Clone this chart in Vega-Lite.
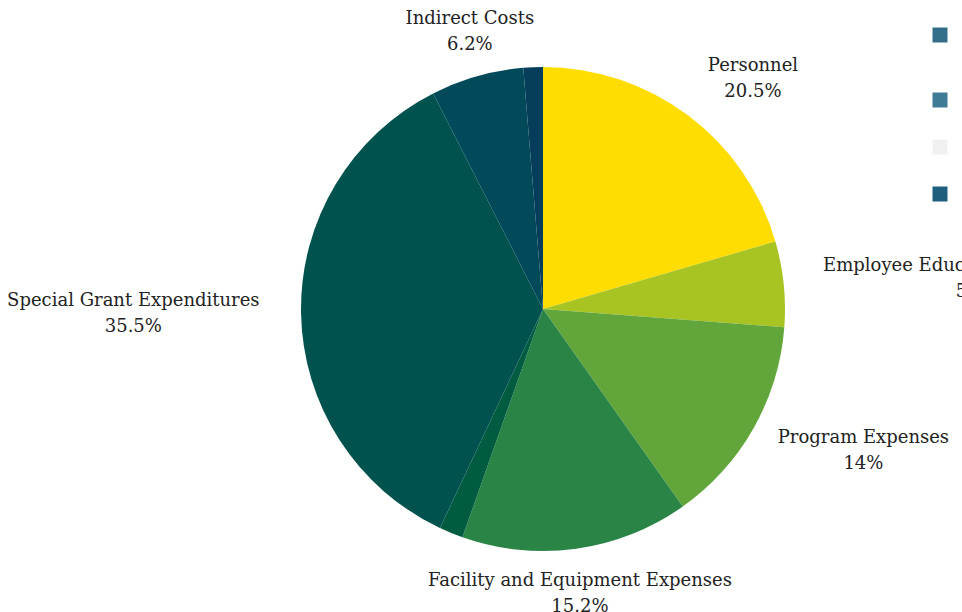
{
  "$schema": "https://vega.github.io/schema/vega-lite/v6.json",
  "autosize": {"type": "none"},
  "padding": {"left": 124, "top": 6, "right": 0, "bottom": 0},
  "width": 838,
  "height": 606,
  "background": "white",
  "config": {"view": {"stroke": null}, "font": "DejaVu Serif"},
  "data": {
    "values": [
      {"order": 1, "name": "Personnel", "value": 20.5},
      {"order": 2, "name": "Employee Education and Training", "value": 5.7},
      {"order": 3, "name": "Program Expenses", "value": 14},
      {"order": 4, "name": "Facility and Equipment Expenses", "value": 15.2},
      {"order": 5, "name": "Travel", "value": 1.6},
      {"order": 6, "name": "Special Grant Expenditures", "value": 35.5},
      {"order": 7, "name": "Indirect Costs", "value": 6.2},
      {"order": 8, "name": "Other", "value": 1.3}
    ]
  },
  "resolve": {"scale": {"color": "independent"}, "legend": {"color": "independent"}},
  "layer": [
    {
      "transform": [
        {"stack": "value", "groupby": [], "sort": [{"field": "order"}], "as": ["v0", "v1"]}
      ],
      "mark": {"type": "arc", "outerRadius": 242, "stroke": null},
      "encoding": {
        "theta": {"field": "v0", "type": "quantitative", "scale": {"domain": [0, 100]}},
        "theta2": {"field": "v1"},
        "color": {
          "field": "name",
          "type": "nominal",
          "legend": null,
          "scale": {
            "domain": ["Personnel", "Employee Education and Training", "Program Expenses", "Facility and Equipment Expenses", "Travel", "Special Grant Expenditures", "Indirect Costs", "Other"],
            "range": ["#FFDD00", "#A8C423", "#62A63B", "#2A8446", "#005C40", "#00524F", "#02495A", "#053D5B"]
          }
        }
      }
    },
    {
      "transform": [
        {"stack": "value", "groupby": [], "sort": [{"field": "order"}], "as": ["v0", "v1"]},
        {"calculate": "(datum.v0 + datum.v1) / 2", "as": "mid"},
        {"filter": "datum.value >= 2"},
        {"calculate": "datum.name + '\\n' + datum.value + '%'", "as": "label"}
      ],
      "mark": {
        "type": "text",
        "radius": 268,
        "fontSize": 18,
        "lineHeight": 26,
        "lineBreak": "\n",
        "align": "center",
        "baseline": "middle",
        "color": "#222222",
        "dx": {"expr": "sin(2*PI*datum.mid/100) > 0.3 ? length(datum.name)*5.45 : (sin(2*PI*datum.mid/100) < -0.3 ? -length(datum.name)*5.45 : 0)"},
        "dy": {"expr": "-cos(2*PI*datum.mid/100)*20 - 13"}
      },
      "encoding": {
        "theta": {"field": "mid", "type": "quantitative", "scale": {"domain": [0, 100]}},
        "text": {"field": "label"}
      }
    },
    {
      "data": {
        "values": [
          {"cat": "Contractual Services"},
          {"cat": "Supplies"},
          {"cat": "Equipment"},
          {"cat": "Miscellaneous"}
        ]
      },
      "mark": {"type": "point", "shape": "square", "filled": true, "opacity": 0},
      "encoding": {
        "color": {
          "field": "cat",
          "type": "nominal",
          "scale": {
            "domain": ["Contractual Services", "Supplies", "Equipment", "Miscellaneous"],
            "range": ["#336D8A", "#3F7A97", "#F0F0F0", "#1E5F7E"]
          },
          "legend": {
            "orient": "none",
            "legendX": 808,
            "legendY": 21,
            "title": null,
            "padding": 0,
            "symbolType": "square",
            "symbolSize": 225,
            "symbolOpacity": 1,
            "symbolStrokeWidth": 0,
            "labelOffset": 20,
            "labelFontSize": 16,
            "rowPadding": 31,
            "labelExpr": "datum.label == 'Contractual Services' ? ['Contractual', 'Services'] : datum.label"
          }
        }
      }
    }
  ]
}
